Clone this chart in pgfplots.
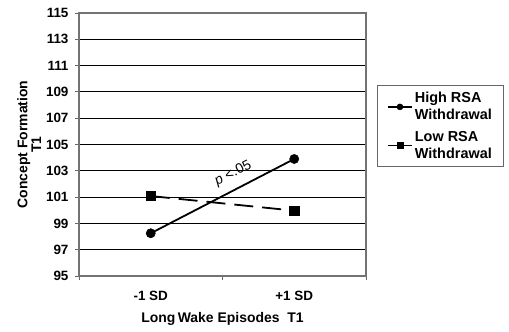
\documentclass[border=0pt]{standalone}
\usepackage{pgfplots}
\pgfplotsset{compat=1.18}
\usepackage{fontspec}
\setmainfont{Liberation Sans}
\begin{document}
\begin{tikzpicture}
\useasboundingbox (0bp,0bp) rectangle (509bp,332bp);
\begin{axis}[
  at={(79bp,56bp)}, anchor=south west,
  scale only axis, width=287bp, height=263bp,
  xmin=0.5, xmax=2.5, ymin=95, ymax=115,
  ytick={95,97,...,115},
  xtick={1,2}, xticklabels={-1 SD,+1 SD},
  minor xtick={0.5,1.5,2.5},
  major x tick style={draw=none},
  minor tick length=4bp, major tick length=4bp,
  tick align=outside, tick pos=left,
  ymajorgrids, grid style={black, line width=0.8bp},
  axis line style={black!55, line width=1.2bp},
  tick style={black!60, line width=0.8bp},
  ticklabel style={font=\fontsize{13.5}{16}\selectfont\bfseries},
  /pgf/number format/assume math mode=true,
  xticklabel style={yshift=-8bp},
  yticklabel style={xshift=-3bp},
  xlabel={Long\,Wake Episodes\ \ T1},
  xlabel style={font=\fontsize{14}{16}\selectfont\bfseries, yshift=-5bp},
  ylabel={Concept Formation\\T1},
  ylabel style={font=\fontsize{14}{14}\selectfont\bfseries, align=center, yshift=-2bp},
  legend cell align=left,
  legend style={at={(1.038,0.726)}, anchor=north west, draw=black!60, line width=0.8bp,
    font=\fontsize{14.5}{17}\selectfont\bfseries, cells={align=left},
    inner xsep=10bp, inner ysep=5bp, row sep=6bp},
  legend image code/.code={
    \draw[#1, solid, line width=1.5bp] (0,0) -- (0.85cm,0);
    \draw[#1, only marks, mark size=3bp] plot coordinates {(0.42cm,0)};
  },
  clip=false,
]
\addplot[black, line width=1.8bp, mark=*, mark size=4.6bp, mark options={solid, line width=0.5bp}]
  coordinates {(1,98.25) (2,103.9)};
\addlegendentry{High RSA\\Withdrawal}
\addplot[black, line width=1.8bp, dash pattern=on 19bp off 9bp, mark=square*, mark size=4.6bp, mark options={solid, line width=0.5bp}]
  coordinates {(1,101.08) (2,99.97)};
\addlegendentry{Low RSA\\Withdrawal}
\node[rotate=27, font=\fontsize{14}{16}\selectfont] at (axis cs:1.575,102.8) {\textit{p} <.05};
\end{axis}
\end{tikzpicture}
\end{document}
